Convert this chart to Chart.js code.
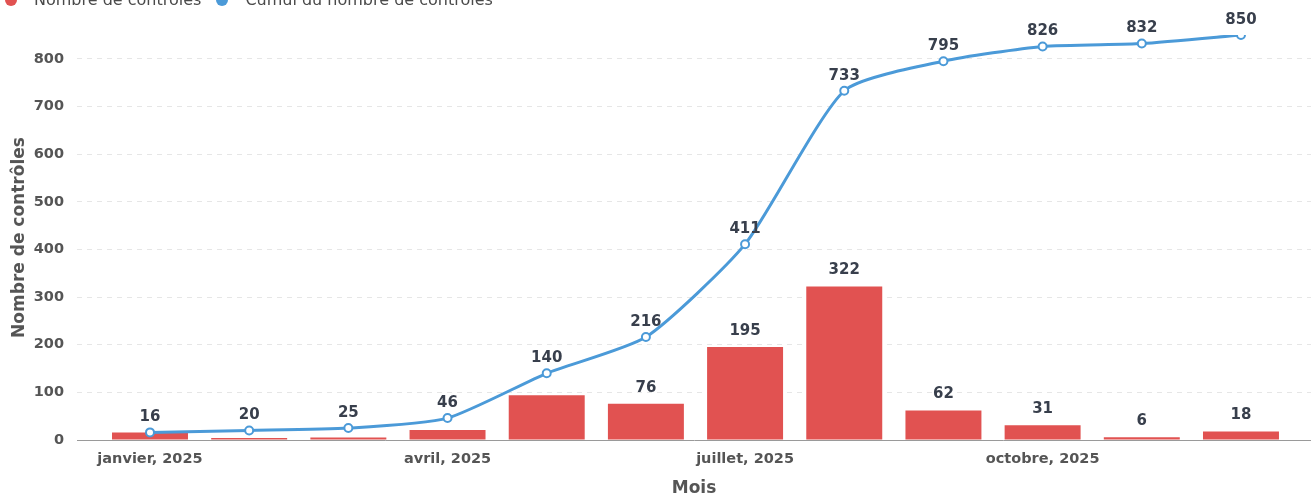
<!DOCTYPE html>
<html lang="fr">
<head>
<meta charset="utf-8">
<title>Contrôles 2025</title>
<script src="https://cdn.jsdelivr.net/npm/chart.js@4/dist/chart.umd.min.js"></script>
<style>
  html, body { margin: 0; padding: 0; background: #ffffff; overflow: hidden; }
  #wrap { position: relative; width: 1311px; height: 496px; overflow: hidden; }
  #box { position: absolute; left: 0; top: 0; width: 1317px; height: 499px; }
  #legend {
    position: absolute; left: 0; top: -10px;
    display: flex; align-items: center;
    font-family: "DejaVu Sans", sans-serif; font-size: 16px; line-height: 19px;
    color: #4a4a4a; white-space: nowrap;
  }
  #legend .item { display: flex; align-items: center; margin-right: 10px; }
  #legend .dot { width: 12px; height: 12px; border-radius: 50%; margin: 0 17px 0 5px; }
</style>
</head>
<body>
<div id="wrap">
  <div id="box"><canvas id="chart"></canvas></div>
  <div id="legend"></div>
</div>
<script>
// Monthly number of checks in 2025 and the running total.
const monthLabels = [
  'janvier, 2025', 'février, 2025', 'mars, 2025', 'avril, 2025',
  'mai, 2025', 'juin, 2025', 'juillet, 2025', 'août, 2025',
  'septembre, 2025', 'octobre, 2025', 'novembre, 2025', 'décembre, 2025'
];
const monthlyChecks    = [16, 4, 5, 21, 94, 76, 195, 322, 62, 31, 6, 18];
const cumulativeChecks = [16, 20, 25, 46, 140, 216, 411, 733, 795, 826, 832, 850];
const xTickMonths = [0, 3, 6, 9];
const yTickValues = [0, 100, 200, 300, 400, 500, 600, 700, 800];

const RED = '#e15251';
const BLUE = '#4b9ad8';
const FONT = '"DejaVu Sans", sans-serif';

const monthIndex = monthLabels.map((_, i) => i);
const barPoints  = monthIndex.map(i => ({ x: i, y: monthlyChecks[i] }));
const linePoints = monthIndex.map(i => ({ x: i, y: cumulativeChecks[i] }));

Chart.defaults.font.family = FONT;

// Value labels above points and bars; a bar label is skipped when it
// would collide with a line label or a line marker.
const valueLabels = {
  id: 'valueLabels',
  afterDatasetsDraw(chart) {
    const ctx = chart.ctx;
    const barMeta = chart.getDatasetMeta(0);
    const lineMeta = chart.getDatasetMeta(1);
    const lineLift = 15;
    const barLift = 16;
    const half = 8;
    const taken = [];
    const hits = (a, b) => a.l < b.r && a.r > b.l && a.t < b.b && a.b > b.t;
    ctx.save();
    ctx.font = 'bold 15px ' + FONT;
    ctx.fillStyle = '#383f4c';
    ctx.textAlign = 'center';
    ctx.textBaseline = 'middle';
    lineMeta.data.forEach((pt, i) => {
      const text = String(chart.data.datasets[1].data[i].y);
      const w = ctx.measureText(text).width;
      const y = pt.y - lineLift;
      taken.push({ l: pt.x - w / 2, r: pt.x + w / 2, t: y - half, b: y + half });
      taken.push({ l: pt.x - 6, r: pt.x + 6, t: pt.y - 6, b: pt.y + 6 });
      ctx.fillText(text, pt.x, y);
    });
    barMeta.data.forEach((bar, i) => {
      const text = String(chart.data.datasets[0].data[i].y);
      const w = ctx.measureText(text).width;
      const y = bar.y - barLift;
      const box = { l: bar.x - w / 2, r: bar.x + w / 2, t: y - half, b: y + half };
      if (taken.some(t => hits(t, box))) return;
      ctx.fillText(text, bar.x, y);
    });
    ctx.restore();
  }
};

const chart = new Chart(document.getElementById('chart'), {
  type: 'bar',
  data: {
    datasets: [
      {
        type: 'bar',
        label: 'Nombre de contrôles',
        data: barPoints,
        backgroundColor: RED,
        borderWidth: 0,
        barPercentage: 0.766,
        categoryPercentage: 1,
        order: 2
      },
      {
        type: 'line',
        label: 'Cumul du nombre de contrôles',
        data: linePoints,
        borderColor: BLUE,
        backgroundColor: BLUE,
        borderWidth: 3,
        tension: 0.2,
        pointRadius: 4,
        pointBorderWidth: 2,
        pointBackgroundColor: '#ffffff',
        pointBorderColor: BLUE,
        order: 1
      }
    ]
  },
  options: {
    responsive: true,
    maintainAspectRatio: false,
    animation: false,
    layout: { padding: { top: 35, left: 0, right: 0, bottom: 0 } },
    plugins: {
      legend: { display: false },
      tooltip: { enabled: false }
    },
    scales: {
      x: {
        type: 'linear',
        min: -0.736,
        max: 11.706,
        offset: false,
        afterBuildTicks: s => { s.ticks = xTickMonths.map(v => ({ value: v })); },
        afterFit: s => { s.height = 59; },
        ticks: {
          callback: v => monthLabels[v],
          autoSkip: false,
          maxRotation: 0,
          font: { size: 14.5, weight: 'bold' },
          color: '#555555',
          padding: 3
        },
        grid: { display: false, offset: false },
        border: { display: true, color: '#9a9a9a', width: 1 },
        title: {
          display: true,
          text: 'Mois',
          font: { size: 17, weight: 'bold' },
          color: '#555555',
          padding: { top: 0, bottom: 0 }
        }
      },
      y: {
        min: 0,
        max: 850,
        afterBuildTicks: s => { s.ticks = yTickValues.map(v => ({ value: v })); },
        afterFit: s => { s.width = 77; },
        ticks: {
          font: { size: 14.5, weight: 'bold' },
          color: '#555555',
          padding: 13
        },
        grid: { color: '#e6e6e6', lineWidth: 1, drawTicks: false },
        border: { display: false, dash: [5, 5] },
        title: {
          display: true,
          text: 'Nombre de contrôles',
          font: { size: 17, weight: 'bold' },
          color: '#555555',
          padding: { top: 9, bottom: 0 }
        }
      }
    }
  },
  plugins: [valueLabels]
});

// Legend built from the chart's own datasets.
const legend = document.getElementById('legend');
chart.data.datasets.forEach(ds => {
  const item = document.createElement('span');
  item.className = 'item';
  const dot = document.createElement('span');
  dot.className = 'dot';
  dot.style.background = ds.type === 'line' ? ds.borderColor : ds.backgroundColor;
  const text = document.createElement('span');
  text.textContent = ds.label;
  item.appendChild(dot);
  item.appendChild(text);
  legend.appendChild(item);
});
</script>
</body>
</html>
